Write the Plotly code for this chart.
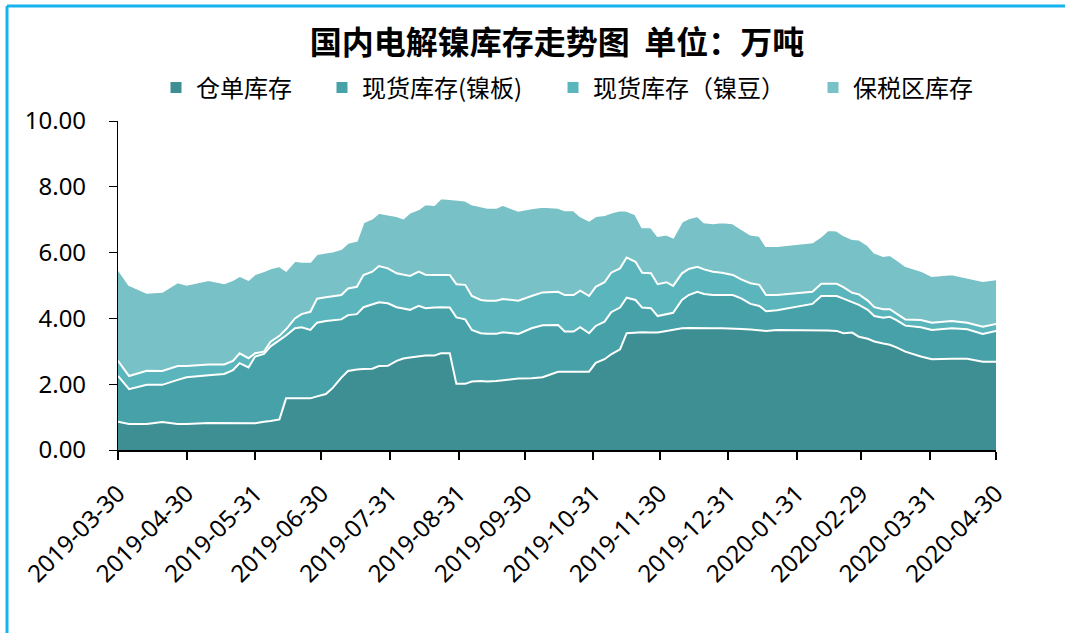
import plotly.graph_objects as go

dates = ["2019-03-30","2019-04-04","2019-04-12","2019-04-19","2019-04-26","2019-04-30","2019-05-10","2019-05-17","2019-05-21","2019-05-24",
         "2019-05-28","2019-05-31","2019-06-04","2019-06-07","2019-06-11","2019-06-14","2019-06-18","2019-06-21","2019-06-25","2019-06-28",
         "2019-07-02","2019-07-05","2019-07-09","2019-07-12","2019-07-16","2019-07-19","2019-07-23","2019-07-26","2019-07-30","2019-08-03",
         "2019-08-06","2019-08-09","2019-08-13","2019-08-16","2019-08-20","2019-08-23","2019-08-27","2019-08-30","2019-09-03","2019-09-06",
         "2019-09-10","2019-09-13","2019-09-17","2019-09-20","2019-09-27","2019-10-03","2019-10-08","2019-10-15","2019-10-18","2019-10-22",
         "2019-10-25","2019-10-29","2019-11-01","2019-11-05","2019-11-08","2019-11-12","2019-11-15","2019-11-19","2019-11-22","2019-11-26",
         "2019-11-29","2019-12-03","2019-12-06","2019-12-10","2019-12-13","2019-12-17","2019-12-20","2019-12-24","2019-12-28","2020-01-02",
         "2020-01-06","2020-01-10","2020-01-14","2020-01-17","2020-01-22","2020-02-07","2020-02-11","2020-02-14","2020-02-18","2020-02-21",
         "2020-02-25","2020-02-28","2020-03-03","2020-03-06","2020-03-10","2020-03-13","2020-03-16","2020-03-20","2020-03-27","2020-04-01",
         "2020-04-10","2020-04-17","2020-04-24","2020-04-30"]

warrant = [0.86,0.79,0.79,0.85,0.79,0.79,0.82,0.81,0.81,0.81,
           0.81,0.81,0.86,0.88,0.93,1.57,1.57,1.57,1.57,1.63,
           1.70,1.88,2.20,2.40,2.45,2.46,2.47,2.55,2.56,2.71,
           2.78,2.81,2.85,2.87,2.87,2.94,2.94,2.01,2.01,2.08,
           2.10,2.08,2.10,2.12,2.17,2.18,2.21,2.38,2.38,2.38,
           2.38,2.38,2.65,2.76,2.91,3.06,3.55,3.58,3.58,3.57,
           3.57,3.62,3.66,3.70,3.71,3.70,3.70,3.70,3.70,3.70,
           3.68,3.66,3.64,3.62,3.65,3.65,3.64,3.63,3.62,3.55,
           3.57,3.44,3.38,3.30,3.24,3.20,3.12,2.99,2.84,2.76,
           2.77,2.77,2.68,2.68]

spot_plate = [1.39,1.06,1.19,1.13,1.34,1.42,1.45,1.50,1.62,1.83,
              1.70,2.03,2.06,2.27,2.41,1.91,2.13,2.16,2.08,2.24,
              2.22,2.07,1.77,1.70,1.68,1.88,1.95,1.94,1.90,1.63,
              1.52,1.45,1.53,1.44,1.46,1.40,1.39,2.02,1.96,1.57,
              1.45,1.45,1.43,1.46,1.36,1.52,1.58,1.42,1.22,1.22,
              1.35,1.17,1.12,1.14,1.28,1.27,1.08,0.98,0.75,0.74,
              0.50,0.51,0.51,0.86,1.00,1.11,1.04,1.01,1.01,1.01,
              0.92,0.78,0.74,0.60,0.60,0.79,1.04,1.05,1.06,1.05,
              0.93,0.97,0.88,0.77,0.78,0.85,0.83,0.79,0.89,0.89,
              0.93,0.90,0.85,0.94]

spot_bean = [0.46,0.40,0.43,0.42,0.42,0.34,0.33,0.29,0.28,0.30,
             0.28,0.10,0.07,0.14,0.13,0.19,0.30,0.40,0.55,0.73,
             0.72,0.72,0.74,0.81,0.83,0.98,1.00,1.10,1.06,1.03,
             1.03,1.03,1.04,1.02,0.99,0.98,0.99,1.01,1.05,1.03,
             1.01,1.01,1.01,1.01,1.01,0.98,1.00,1.01,1.11,1.11,
             1.11,1.13,1.19,1.20,1.20,1.19,1.22,1.16,1.06,1.06,
             0.97,0.97,0.82,0.81,0.79,0.76,0.75,0.71,0.68,0.61,
             0.58,0.63,0.64,0.49,0.46,0.37,0.37,0.37,0.37,0.35,
             0.28,0.32,0.28,0.27,0.26,0.23,0.20,0.19,0.22,0.22,
             0.22,0.20,0.22,0.21]

bonded = [2.79,2.77,2.37,2.41,2.55,2.47,2.57,2.47,2.46,2.35,
          2.38,2.41,2.45,2.23,2.12,1.78,1.75,1.59,1.52,1.36,
          1.36,1.36,1.40,1.39,1.40,1.60,1.62,1.62,1.64,1.74,
          1.71,1.93,1.90,2.14,2.13,2.33,2.31,2.57,2.56,2.79,
          2.84,2.82,2.82,2.86,2.73,2.67,2.60,2.55,2.58,2.58,
          2.27,2.29,2.15,2.04,1.83,1.77,1.42,1.44,1.38,1.40,
          1.47,1.45,1.47,1.57,1.54,1.54,1.43,1.47,1.53,1.57,
          1.53,1.48,1.49,1.49,1.49,1.50,1.45,1.64,1.62,1.58,
          1.63,1.67,1.69,1.66,1.62,1.65,1.64,1.63,1.50,1.42,
          1.42,1.38,1.39,1.36]

names = ["仓单库存", "现货库存(镍板)", "现货库存（镍豆）", "保税区库存"]
colors = ["#3e8f94", "#46a2a8", "#5bb5bc", "#78c1c6"]
series = [warrant, spot_plate, spot_bean, bonded]

tick_dates = ["2019-03-30","2019-04-30","2019-05-31","2019-06-30","2019-07-31","2019-08-31","2019-09-30",
              "2019-10-31","2019-11-30","2019-12-31","2020-01-31","2020-02-29","2020-03-31","2020-04-30"]
y_ticks = [0, 2, 4, 6, 8, 10]

fig = go.Figure()
for vals, nm, col in zip(series, names, colors):
    fig.add_trace(go.Scatter(x=dates, y=vals, name=nm, stackgroup="one", mode="lines",
                             line=dict(color="white", width=2), fillcolor=col, showlegend=False))

L, R, T, B = 118, 996, 121, 450
def px_x(p):
    return (p - L) / (R - L)
def px_y(p):
    return (B - p) / (B - T)

text_starts = [198, 364, 595, 855]
legend_names = ["legend", "legend2", "legend3", "legend4"]
for nm, col, ln in zip(names, colors, legend_names):
    fig.add_trace(go.Scatter(x=[None], y=[None], mode="markers", name=nm, legend=ln,
                             marker=dict(symbol="square", size=11, color=col), showlegend=True))

legend_font = dict(family="Noto Sans CJK SC", size=24, color="#000000")
layout_legends = {}
for ln, ts in zip(legend_names, text_starts):
    layout_legends[ln] = dict(x=px_x(ts - 42), y=px_y(88), xanchor="left", yanchor="middle",
                              orientation="h", font=legend_font, bgcolor="rgba(0,0,0,0)",
                              itemclick=False)

fig.update_layout(
    width=1065, height=633,
    margin=dict(l=L, r=1065 - R, t=T, b=633 - B),
    paper_bgcolor="white", plot_bgcolor="white",
    title=dict(text="国内电解镍库存走势图  单位：万吨", x=0.5, xref="paper", xanchor="center",
               y=1 - 43 / 633, yanchor="middle",
               font=dict(family="Noto Sans CJK SC", size=32, color="#000000", weight="bold")),
    xaxis=dict(type="date", range=[tick_dates[0], tick_dates[-1]], tickvals=tick_dates, ticktext=tick_dates,
               tickangle=-45, ticks="outside", ticklen=8, tickwidth=1.5, tickcolor="#000000",
               showline=True, linecolor="#000000", linewidth=2, showgrid=False, zeroline=False,
               ticklabelstandoff=10,
               tickfont=dict(family="Noto Sans", size=24, color="#000000")),
    yaxis=dict(range=[0, 10], tickvals=y_ticks, tickformat=".2f", ticks="outside", ticklen=8,
               tickcolor="#000000", showline=True, linecolor="#000000", linewidth=1.2,
               showgrid=False, zeroline=False, ticklabelstandoff=18,
               tickfont=dict(family="Noto Sans", size=24, color="#000000")),
    shapes=[
        dict(type="line", xref="paper", yref="paper", x0=px_x(7), x1=px_x(7), y0=px_y(700), y1=px_y(6),
             line=dict(color="#17b3ee", width=3)),
        dict(type="line", xref="paper", yref="paper", x0=px_x(7), x1=px_x(1100), y0=px_y(6), y1=px_y(6),
             line=dict(color="#17b3ee", width=3)),
    ],
    **layout_legends,
)

fig.write_html("out.html", config={"displayModeBar": False},
               post_script="document.body.style.margin='0';")
